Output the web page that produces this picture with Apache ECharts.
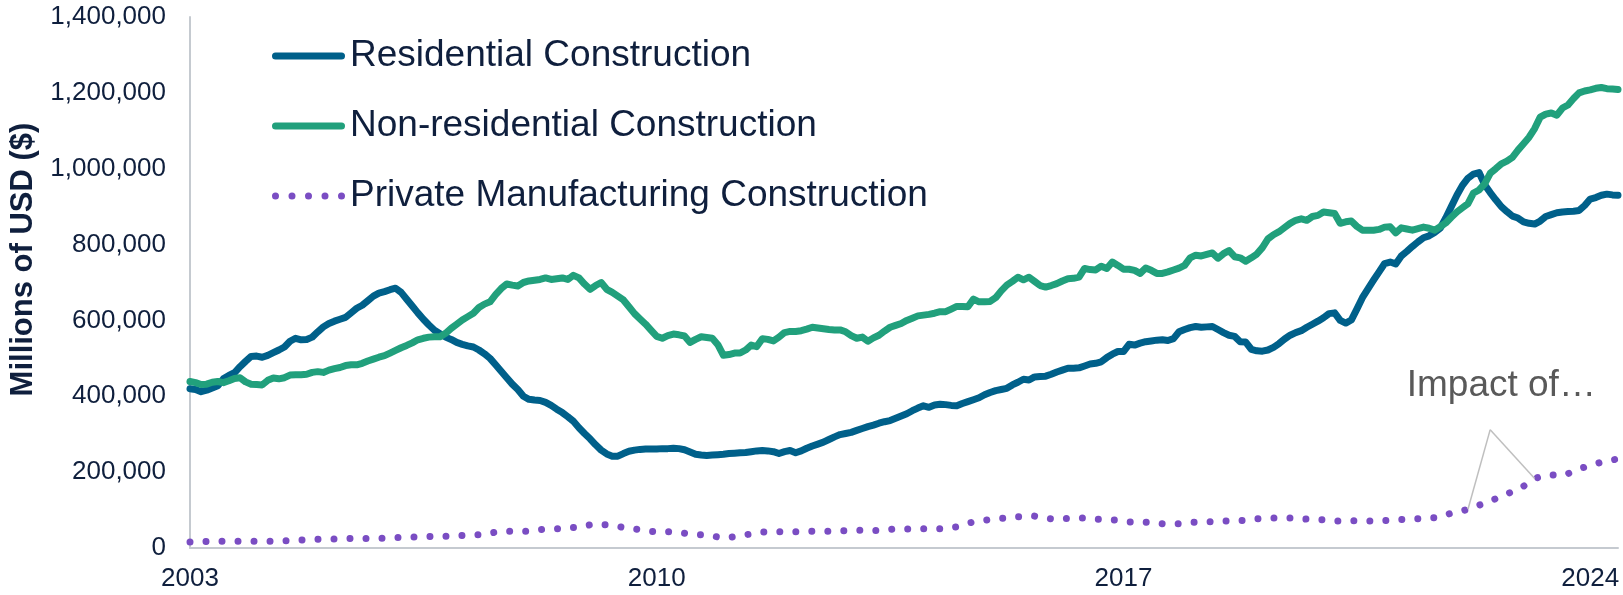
<!DOCTYPE html>
<html>
<head>
<meta charset="utf-8">
<script src="https://cdn.jsdelivr.net/npm/echarts@6/dist/echarts.min.js"></script>
<style>
html,body{margin:0;padding:0;background:#fff;}
#chart{width:1623px;height:595px;}
</style>
</head>
<body>
<div id="chart"></div>
<script>
// Monthly data, Jan 2003 – Jun 2024, millions of USD (SAAR)
const startYear = 2003;
const yearTicks = ['2003', '2010', '2017', '2024'];
const seriesNames = ['Residential Construction', 'Non-residential Construction', 'Private Manufacturing Construction'];

const residential = [
420000,418000,412000,416000,422000,428000,446000,455000,462000,478000,492000,505000,
506000,503000,508000,515000,522000,530000,545000,553000,549000,550000,556000,570000,
583000,592000,598000,603000,608000,620000,632000,640000,652000,664000,672000,676000,
681000,685000,674000,656000,638000,620000,603000,588000,574000,565000,556000,550000,
542000,537000,533000,530000,522000,512000,500000,483000,466000,449000,432000,418000,
400000,392000,390000,389000,384000,376000,366000,357000,346000,334000,317000,302000,
288000,272000,258000,248000,242000,242000,249000,255000,258000,260000,261000,261000,
261000,262000,262000,263000,262000,259000,253000,247000,245000,244000,245000,246000,
247000,249000,250000,251000,252000,254000,256000,257000,256000,254000,249000,254000,
257000,251000,256000,263000,269000,274000,279000,286000,293000,299000,302000,305000,
310000,315000,320000,324000,329000,333000,336000,342000,348000,354000,362000,369000,
375000,371000,377000,379000,378000,376000,375000,381000,386000,391000,396000,404000,
410000,415000,418000,421000,430000,437000,445000,443000,451000,452000,453000,458000,
464000,469000,474000,474000,475000,480000,485000,487000,491000,502000,511000,518000,
518000,537000,535000,540000,544000,546000,548000,549000,547000,552000,570000,576000,
581000,584000,582000,583000,584000,576000,568000,561000,558000,544000,543000,524000,
520000,519000,522000,529000,539000,551000,561000,568000,573000,582000,590000,598000,
607000,618000,620000,600000,593000,601000,630000,660000,683000,706000,728000,750000,
754000,749000,770000,782000,795000,807000,818000,823000,832000,843000,870000,900000,
930000,956000,975000,986000,990000,958000,937000,918000,900000,887000,875000,870000,
860000,856000,854000,862000,874000,879000,884000,886000,887000,888000,890000,903000,
920000,924000,930000,933000,931000,930000
];

const nonResidential = [
439000,436000,431000,432000,437000,439000,436000,441000,447000,449000,438000,432000,
431000,430000,442000,448000,446000,449000,456000,457000,457000,458000,463000,465000,
463000,469000,473000,476000,481000,483000,483000,487000,493000,498000,503000,507000,
514000,521000,528000,534000,541000,549000,553000,556000,557000,557000,566000,579000,
590000,601000,610000,619000,634000,643000,649000,668000,684000,696000,693000,691000,
700000,704000,706000,708000,712000,708000,710000,712000,708000,719000,712000,696000,
682000,692000,700000,682000,674000,664000,654000,636000,618000,604000,590000,574000,
558000,553000,560000,564000,562000,559000,542000,550000,557000,555000,553000,536000,
508000,510000,514000,514000,522000,535000,531000,552000,550000,546000,556000,568000,
571000,571000,573000,577000,582000,580000,578000,576000,575000,575000,570000,560000,
553000,556000,545000,554000,561000,572000,582000,587000,592000,600000,606000,612000,
614000,616000,619000,623000,623000,630000,637000,637000,636000,656000,649000,649000,
650000,660000,678000,693000,703000,714000,707000,714000,703000,692000,688000,692000,
697000,704000,710000,711000,714000,737000,734000,733000,743000,737000,754000,745000,
735000,735000,732000,724000,738000,732000,724000,724000,728000,733000,738000,745000,
765000,772000,770000,774000,778000,764000,776000,784000,768000,765000,756000,765000,
775000,792000,815000,826000,834000,845000,856000,864000,868000,864000,874000,877000,
886000,884000,882000,856000,860000,862000,848000,838000,838000,838000,840000,846000,
847000,831000,844000,841000,838000,842000,846000,843000,838000,847000,857000,872000,
886000,897000,908000,936000,944000,960000,988000,1000000,1013000,1020000,1030000,1049000,
1066000,1083000,1106000,1136000,1144000,1147000,1141000,1160000,1168000,1185000,1200000,1205000,
1208000,1212000,1214000,1211000,1210000,1209000
];

const manufacturing = [
16000,16000,16000,17000,18000,18000,18000,18000,18000,18000,18000,18000,
18000,18000,18000,18000,18000,19000,19000,20000,21000,22000,22000,23000,
24000,24000,24000,24000,24000,25000,25000,25000,25000,25000,26000,26000,
27000,28000,28000,29000,29000,29000,29000,30000,31000,31000,31000,31000,
32000,33000,34000,35000,35000,36000,39000,42000,44000,44000,44000,44000,
44000,44000,46000,48000,50000,50000,51000,51000,52000,54000,55000,58000,
61000,64000,62000,61000,59000,57000,54000,52000,50000,48000,46000,44000,
43000,43000,43000,43000,41000,39000,37000,36000,35000,34000,32000,29000,
27000,28000,30000,32000,35000,37000,40000,42000,43000,43000,43000,43000,
43000,43000,43000,43000,44000,44000,44000,44000,45000,45000,46000,46000,
47000,47000,47000,46000,46000,47000,49000,51000,51000,50000,50000,50000,
51000,51000,51000,51000,52000,54000,56000,60000,65000,69000,71000,73000,
75000,76000,78000,79000,80000,82000,83000,84000,84000,81000,79000,77000,
77000,78000,78000,78000,79000,79000,78000,76000,75000,75000,74000,73000,
71000,69000,68000,68000,68000,67000,66000,64000,64000,64000,64000,65000,
67000,68000,69000,69000,69000,70000,71000,72000,72000,72000,73000,75000,
77000,78000,79000,79000,79000,79000,79000,78000,77000,76000,76000,75000,
74000,73000,71000,71000,71000,72000,72000,71000,71000,71000,72000,72000,
73000,74000,75000,76000,76000,77000,78000,79000,80000,83000,87000,92000,
96000,98000,102000,108000,113000,118000,123000,130000,136000,142000,149000,155000,
163000,172000,183000,188000,192000,193000,192000,191000,196000,203000,209000,213000,
218000,222000,226000,230000,232000,235000
];

// annotation
const annotationText = 'Impact of…';
const annotationAnchor = {idx: 236, value: 428000};
const calloutApex = {idx: 234, value: 312000};
const calloutTargets = [230, 242];

// month categories
const categories = [];
for (let i = 0; i < residential.length; i++) {
  const y = startYear + Math.floor(i / 12);
  const m = (i % 12) + 1;
  categories.push(y + '-' + (m < 10 ? '0' + m : m));
}

const FONT = "'Liberation Sans', Arial, sans-serif";
const NAVY = '#0f1f3d';
const BLUE = '#00608a';
const GREEN = '#21a07c';
const PURPLE = '#7a4dc3';
const AXIS = '#c5cad0';

// legend icons (73 x 7 boxes): rounded bar and five round dots
const ICON_LINE = 'path://M3.5,0 L69.5,0 A3.5,3.5 0 0 1 69.5,7 L3.5,7 A3.5,3.5 0 0 1 3.5,0 Z';
const ICON_DOTS = 'path://' + [3.5, 20, 36.5, 53, 69.5].map(function (cx) {
  return 'M' + (cx - 3.5) + ',3.5 A3.5,3.5 0 1 0 ' + (cx + 3.5) + ',3.5 A3.5,3.5 0 1 0 ' + (cx - 3.5) + ',3.5 Z';
}).join(' ');

const chart = echarts.init(document.getElementById('chart'), null, {renderer: 'canvas'});
chart.setOption({
  animation: false,
  backgroundColor: '#ffffff',
  grid: {left: 190, right: 5, top: 17, bottom: 47, containLabel: false},
  legend: {
    orient: 'vertical', left: 267, top: 31,
    itemWidth: 73, itemHeight: 7, itemGap: 30,
    textStyle: {fontSize: 37, color: NAVY, fontFamily: FONT, lineHeight: 40},
    data: [
      {name: seriesNames[0], icon: ICON_LINE},
      {name: seriesNames[1], icon: ICON_LINE},
      {name: seriesNames[2], icon: ICON_DOTS}
    ]
  },
  xAxis: {
    type: 'category', data: categories, boundaryGap: false,
    axisLine: {show: true, lineStyle: {color: AXIS, width: 2}},
    axisTick: {show: false},
    splitLine: {show: false},
    axisLabel: {
      interval: function (index, value) { return yearTicks.indexOf(value.slice(0, 4)) >= 0 && value.slice(5) === '01'; },
      formatter: function (value) { return value.slice(0, 4); },
      fontSize: 26, color: NAVY, fontFamily: FONT, margin: 18
    }
  },
  yAxis: {
    type: 'value', min: 0, max: 1400000, interval: 200000,
    name: 'Millions of USD ($)', nameLocation: 'middle', nameGap: 148,
    nameTextStyle: {fontSize: 31, fontWeight: 'bold', color: NAVY, fontFamily: FONT, padding: [0, 0, 0, 46]},
    axisLine: {show: true, lineStyle: {color: AXIS, width: 2}},
    axisTick: {show: false},
    splitLine: {show: false},
    axisLabel: {
      formatter: function (v) { return v.toLocaleString('en-US'); },
      fontSize: 26, color: NAVY, fontFamily: FONT, margin: 24
    }
  },
  series: [
    {
      name: seriesNames[0], type: 'line', data: residential, symbol: 'none',
      lineStyle: {color: BLUE, width: 7, join: 'round', cap: 'round'},
      itemStyle: {color: BLUE}
    },
    {
      name: seriesNames[1], type: 'line', data: nonResidential, symbol: 'none',
      lineStyle: {color: GREEN, width: 7, join: 'round', cap: 'round'},
      itemStyle: {color: GREEN}
    },
    {
      name: seriesNames[2], type: 'line', data: manufacturing, symbol: 'none',
      lineStyle: {color: PURPLE, width: 7, type: [0.01, 16], cap: 'round', join: 'round'},
      itemStyle: {color: PURPLE},
      markLine: {
        silent: true, symbol: ['none', 'none'], animation: false,
        label: {show: false},
        lineStyle: {color: '#bfbfbf', width: 1.5, type: 'solid', cap: 'butt'},
        data: calloutTargets.map(function (t) {
          return [
            {coord: [categories[calloutApex.idx], calloutApex.value]},
            {coord: [categories[t], manufacturing[t]]}
          ];
        })
      },
      markPoint: {
        silent: true, animation: false,
        data: [{
          coord: [categories[annotationAnchor.idx], annotationAnchor.value],
          symbol: 'rect', symbolSize: [1, 1],
          itemStyle: {color: 'rgba(0,0,0,0)'},
          label: {show: true, position: 'inside', formatter: annotationText,
                  fontSize: 37, color: '#595959', fontFamily: FONT}
        }]
      }
    }
  ]
});
</script>
</body>
</html>
